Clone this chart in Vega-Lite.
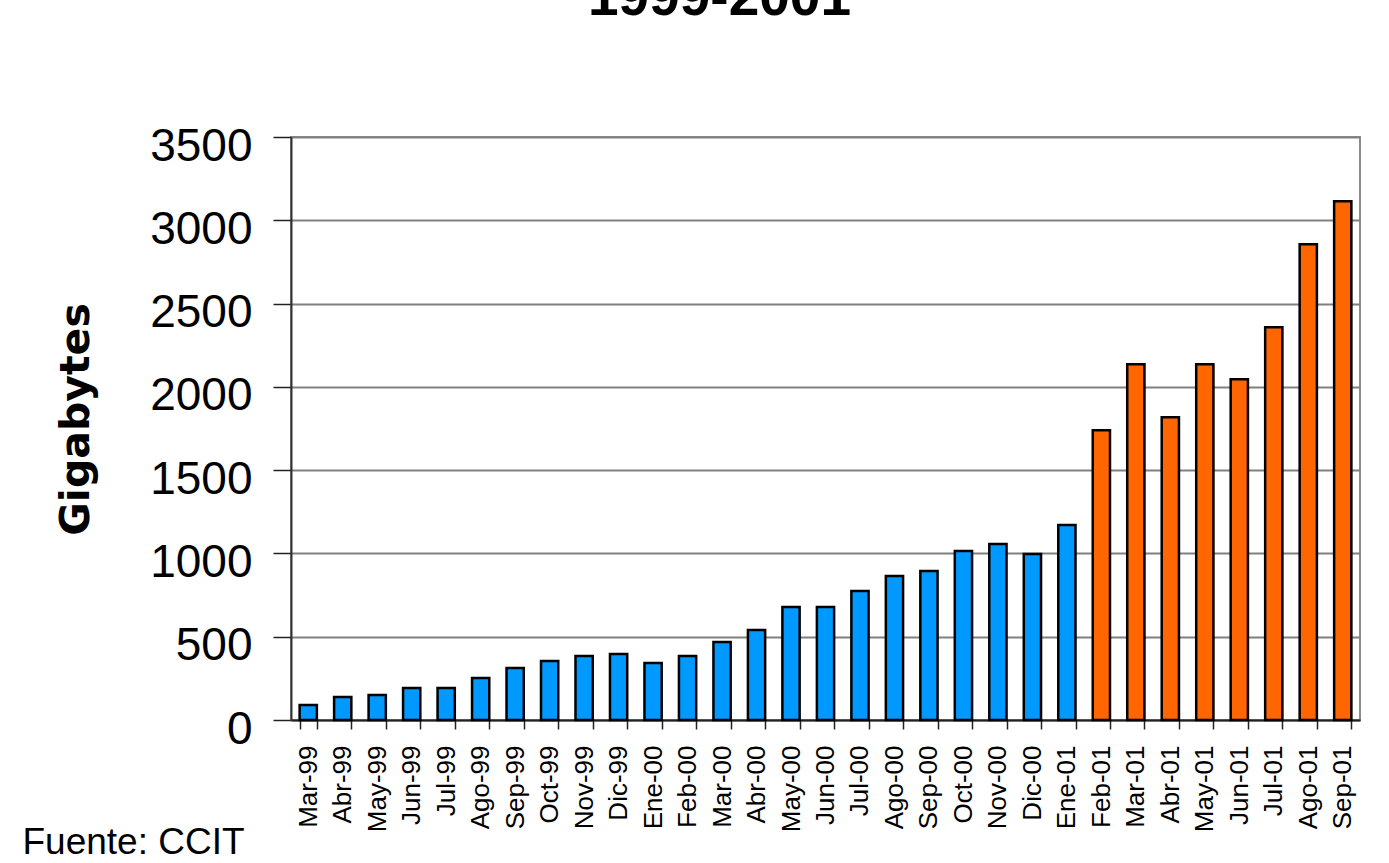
{
  "$schema": "https://vega.github.io/schema/vega-lite/v6.json",
  "autosize": "none",
  "width": 1069,
  "height": 583,
  "padding": {"left": 291, "top": 137, "right": 29, "bottom": 143},
  "background": "white",
  "title": {
    "text": "1999-2001",
    "font": "Liberation Sans",
    "fontSize": 55,
    "fontWeight": "bold",
    "color": "black",
    "anchor": "middle",
    "frame": "group",
    "baseline": "alphabetic",
    "dx": -106,
    "offset": 53
  },
  "config": {
    "view": {"stroke": "#8c8c8c", "strokeWidth": 2},
    "axis": {"labelFont": "Liberation Sans", "titleFont": "Liberation Sans", "labelColor": "black", "titleColor": "black"}
  },
  "data": {
    "values": [
      {"mes": "Mar-99", "gb": 90, "grupo": "a"},
      {"mes": "Abr-99", "gb": 138, "grupo": "a"},
      {"mes": "May-99", "gb": 150, "grupo": "a"},
      {"mes": "Jun-99", "gb": 192, "grupo": "a"},
      {"mes": "Jul-99", "gb": 192, "grupo": "a"},
      {"mes": "Ago-99", "gb": 252, "grupo": "a"},
      {"mes": "Sep-99", "gb": 312, "grupo": "a"},
      {"mes": "Oct-99", "gb": 354, "grupo": "a"},
      {"mes": "Nov-99", "gb": 384, "grupo": "a"},
      {"mes": "Dic-99", "gb": 396, "grupo": "a"},
      {"mes": "Ene-00", "gb": 342, "grupo": "a"},
      {"mes": "Feb-00", "gb": 384, "grupo": "a"},
      {"mes": "Mar-00", "gb": 468, "grupo": "a"},
      {"mes": "Abr-00", "gb": 540, "grupo": "a"},
      {"mes": "May-00", "gb": 678, "grupo": "a"},
      {"mes": "Jun-00", "gb": 678, "grupo": "a"},
      {"mes": "Jul-00", "gb": 774, "grupo": "a"},
      {"mes": "Ago-00", "gb": 864, "grupo": "a"},
      {"mes": "Sep-00", "gb": 894, "grupo": "a"},
      {"mes": "Oct-00", "gb": 1014, "grupo": "a"},
      {"mes": "Nov-00", "gb": 1056, "grupo": "a"},
      {"mes": "Dic-00", "gb": 996, "grupo": "a"},
      {"mes": "Ene-01", "gb": 1170, "grupo": "a"},
      {"mes": "Feb-01", "gb": 1740, "grupo": "b"},
      {"mes": "Mar-01", "gb": 2136, "grupo": "b"},
      {"mes": "Abr-01", "gb": 1818, "grupo": "b"},
      {"mes": "May-01", "gb": 2136, "grupo": "b"},
      {"mes": "Jun-01", "gb": 2046, "grupo": "b"},
      {"mes": "Jul-01", "gb": 2358, "grupo": "b"},
      {"mes": "Ago-01", "gb": 2856, "grupo": "b"},
      {"mes": "Sep-01", "gb": 3114, "grupo": "b"}
    ]
  },
  "mark": {"type": "bar", "stroke": "black", "strokeWidth": 2.5},
  "encoding": {
    "x": {
      "field": "mes",
      "type": "nominal",
      "sort": null,
      "scale": {"paddingInner": 0.5, "paddingOuter": 0.25},
      "axis": {
        "title": "Fuente: CCIT",
        "titleFontSize": 37,
        "titleFontWeight": "normal",
        "titleX": -269,
        "titleY": 133,
        "titleAlign": "left",
        "titleAnchor": null,
        "titleBaseline": "alphabetic",
        "labelAngle": -90,
        "labelAlign": "right",
        "labelBaseline": "middle",
        "labelFontSize": 26,
        "labelPadding": 16,
        "tickSize": 9,
        "tickColor": "#222",
        "tickWidth": 1.5,
        "tickBand": "extent",
        "domainColor": "#222",
        "domainWidth": 2,
        "grid": false
      }
    },
    "y": {
      "field": "gb",
      "type": "quantitative",
      "scale": {"domain": [0, 3500], "nice": false},
      "axis": {
        "values": [0, 500, 1000, 1500, 2000, 2500, 3000, 3500],
        "format": "d",
        "title": "Gigabytes",
        "titleFont": "DejaVu Sans",
        "titleFontSize": 41,
        "titleFontWeight": "bold",
        "titleAngle": -90,
        "titleX": -203,
        "titleY": 282,
        "titleAlign": "center",
        "titleBaseline": "alphabetic",
        "labelFontSize": 46,
        "labelPadding": 21,
        "labelBaseline": "alphabetic",
        "labelOffset": 23,
        "tickSize": 18,
        "tickColor": "#222",
        "tickWidth": 1.5,
        "domainColor": "#333",
        "domainWidth": 2,
        "grid": true,
        "gridColor": "#808080",
        "gridWidth": 2
      }
    },
    "color": {
      "field": "grupo",
      "type": "nominal",
      "scale": {"domain": ["a", "b"], "range": ["#0099FF", "#FF6600"]},
      "legend": null
    }
  }
}
